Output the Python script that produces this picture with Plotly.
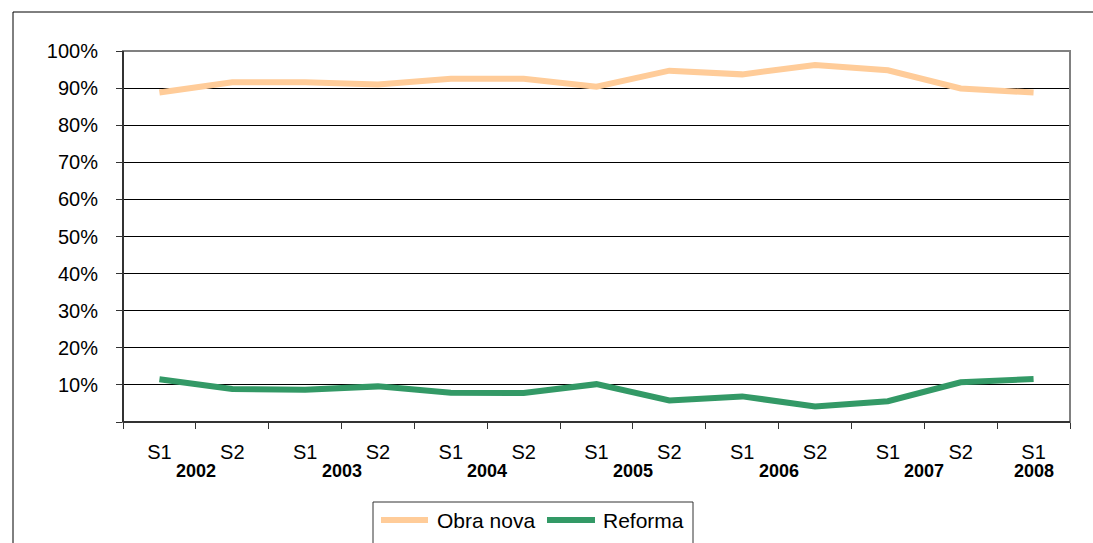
import plotly.graph_objects as go

periods = ["S1", "S2", "S1", "S2", "S1", "S2", "S1", "S2", "S1", "S2", "S1", "S2", "S1"]
years = ["2002", "2003", "2004", "2005", "2006", "2007", "2008"]
year_pos = [0.5, 2.5, 4.5, 6.5, 8.5, 10.5, 12]
obra_nova = [88.8, 91.6, 91.6, 91.0, 92.5, 92.5, 90.4, 94.7, 93.7, 96.2, 94.8, 89.9, 88.8]
reforma = [11.5, 8.9, 8.7, 9.6, 7.9, 7.8, 10.2, 5.8, 6.9, 4.2, 5.6, 10.7, 11.6]
y_ticks = [0, 10, 20, 30, 40, 50, 60, 70, 80, 90, 100]
y_labels = ["", "10%", "20%", "30%", "40%", "50%", "60%", "70%", "80%", "90%", "100%"]
series_names = ["Obra nova", "Reforma"]
series_colors = ["#FFCC99", "#339966"]

FONT = "Liberation Sans, Arial, sans-serif"
idx = list(range(len(periods)))

fig = go.Figure()
for name, vals, col in zip(series_names, [obra_nova, reforma], series_colors):
    fig.add_trace(go.Scatter(x=idx, y=vals, mode="lines", name=name,
                             line=dict(color=col, width=6)))

W, H = 1093, 543
L, R, T, B = 123, 23, 51, 121
pw, ph = W - L - R, H - T - B


def px(x):
    return (x - L) / pw


def py(y):
    return (H - B - y) / ph


shapes = [
    # outer chart frame (partially visible)
    dict(type="line", xref="paper", yref="paper", x0=px(13), x1=px(1100), y0=py(12), y1=py(12),
         line=dict(color="black", width=1)),
    dict(type="line", xref="paper", yref="paper", x0=px(13), x1=px(13), y0=py(12), y1=py(560),
         line=dict(color="black", width=1)),
    # plot area border
    dict(type="rect", xref="paper", yref="paper", x0=0, x1=1, y0=0, y1=1,
         line=dict(color="#808080", width=2), layer="above"),
    dict(type="line", xref="paper", yref="paper", x0=0, x1=0, y0=0, y1=1,
         line=dict(color="#333333", width=2), layer="above"),
    dict(type="line", xref="paper", yref="paper", x0=0, x1=1, y0=0, y1=0,
         line=dict(color="#333333", width=2), layer="above"),
    # legend frame
    dict(type="rect", xref="paper", yref="paper", x0=px(373), x1=px(693), y0=py(502), y1=py(560),
         line=dict(color="#333333", width=1), fillcolor="white", layer="below"),
]

annotations = [
    dict(x=xp, y=py(471), xref="x", yref="paper", text=f"<b>{yr}</b>", showarrow=False,
         font=dict(family=FONT, size=18, color="black"), xanchor="center", yanchor="middle")
    for yr, xp in zip(years, year_pos)
]

# legend (drawn as key samples + text)
legend_sample_x = [(381, 428), (547, 595)]
legend_text_x = [435, 601]
for name, col, (a, b), tx in zip(series_names, series_colors, legend_sample_x, legend_text_x):
    shapes.append(dict(type="line", xref="paper", yref="paper", x0=px(a), x1=px(b),
                       y0=py(520), y1=py(520), line=dict(color=col, width=6)))
    annotations.append(dict(x=px(tx), y=py(520), xref="paper", yref="paper", text=name,
                            showarrow=False, xanchor="left", yanchor="middle",
                            font=dict(family=FONT, size=21, color="black")))

fig.update_layout(
    width=W, height=H,
    margin=dict(l=L, r=R, t=T, b=B, autoexpand=False),
    paper_bgcolor="white", plot_bgcolor="white",
    font=dict(family=FONT, size=20, color="black"),
    showlegend=False,
    shapes=shapes,
    annotations=annotations,
)

fig.update_xaxes(range=[-0.5, len(periods) - 0.5], tickmode="array", tickvals=idx, ticktext=periods,
                 ticks="", showgrid=False, zeroline=False, showline=False, automargin=False,
                 ticklabelstandoff=16, tickfont=dict(family=FONT, size=20),
                 minor=dict(tickmode="array", tickvals=[i - 0.5 for i in range(len(periods) + 1)],
                            ticks="outside", ticklen=6, tickwidth=1, tickcolor="#333333", showgrid=False))
fig.update_yaxes(range=[0, 100], tickmode="array", tickvals=y_ticks, ticktext=y_labels,
                 ticks="outside", ticklen=6, tickwidth=1, tickcolor="#333333", automargin=False,
                 showgrid=True, gridcolor="black", gridwidth=1, zeroline=False, showline=False,
                 ticklabelstandoff=14, tickfont=dict(family=FONT, size=20))

fig.write_html("out.html", config={"displayModeBar": False},
               post_script="document.body.style.margin='0';document.body.style.overflow='hidden';")
